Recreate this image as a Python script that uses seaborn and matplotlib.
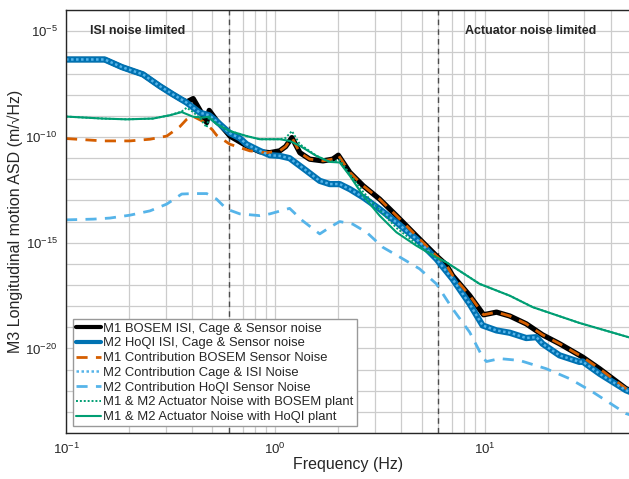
import numpy as np
import pandas as pd
import seaborn as sns
import matplotlib
matplotlib.use("Agg")
import matplotlib.pyplot as plt

# ---------------------------------------------------------------------------
# data (frequency in Hz, ASD in m/sqrt(Hz))
# ---------------------------------------------------------------------------
freq_m1_isi = [0.1, 0.153, 0.185, 0.233, 0.281, 0.324, 0.355, 0.377, 0.405, 0.44, 0.47, 0.483,
               0.524, 0.607, 0.729, 0.843, 0.941, 1.05, 1.12, 1.2, 1.31, 1.46, 1.69, 1.88, 2.0,
               2.27, 2.63, 3.15, 3.79, 4.72, 5.88, 6.56, 7.03, 8.48, 9.89, 11.4, 13.2, 15.8,
               18.9, 22.8, 29.4, 35.4, 47.4, 50]
m1_isi = [4.6e-7, 4.6e-7, 2.0e-7, 9.1e-8, 2.5e-8, 1.03e-8, 6e-9, 4.5e-9, 6.5e-9, 1.6e-9, 4.8e-10,
          1.8e-9, 6e-10, 1.1e-10, 3.8e-11, 2.0e-11, 1.8e-11, 2.2e-11, 3.5e-11, 9.3e-11, 1.8e-11,
          8.9e-12, 7.4e-12, 8.9e-12, 1.37e-11, 2.1e-12, 4.9e-13, 1.15e-13, 1.9e-14, 2.1e-15,
          2.4e-16, 9e-17, 2.8e-17, 3.2e-18, 3.9e-19, 5.2e-19, 3.4e-19, 1.46e-19, 4.4e-20,
          1.67e-20, 3.9e-21, 1.1e-21, 1.26e-22, 1.0e-22]

freq_m2_isi = [0.1, 0.153, 0.185, 0.233, 0.281, 0.324, 0.377, 0.436, 0.483, 0.524, 0.607, 0.677,
               0.729, 0.843, 0.941, 1.05, 1.17, 1.41, 1.63, 1.82, 2.03, 2.27, 2.63, 3.15, 3.79,
               4.72, 5.88, 7.03, 8.48, 9.78, 11.4, 13.2, 15.8, 17.7, 18.9, 22.8, 28.4, 29.4,
               35.4, 47.4, 50]
m2_isi = [4.6e-7, 4.6e-7, 2.0e-7, 9.1e-8, 2.5e-8, 1.03e-8, 4.2e-9, 1.4e-9, 1.06e-9, 5.5e-10,
          1.5e-10, 8.7e-11, 4.5e-11, 2.2e-11, 1.37e-11, 1.27e-11, 9.9e-12, 2.5e-12, 8.4e-13,
          5.9e-13, 5.9e-13, 3.4e-13, 1.39e-13, 3.9e-14, 9.2e-15, 1.5e-15, 1.7e-16, 1.9e-17,
          1.28e-18, 1.22e-19, 7.1e-20, 5.5e-20, 3.1e-20, 3.4e-20, 1.67e-20, 4.7e-21, 2.3e-21,
          2.4e-21, 6.4e-22, 1.05e-22, 8.5e-23]

freq_m1_sens = [0.1, 0.15, 0.202, 0.252, 0.303, 0.35, 0.377, 0.40, 0.45, 0.50, 0.524, 0.607,
                0.755, 0.91, 1.05, 1.12, 1.2, 1.31, 1.46, 1.69, 1.88, 2.0, 2.27, 2.63, 3.15,
                3.79, 4.72, 5.88, 6.56, 7.03, 8.48, 9.89, 11.4, 13.2, 15.8, 18.9, 22.8, 29.4,
                35.4, 47.4, 50]
m1_sens = [8.4e-11, 6.5e-11, 6.5e-11, 7.8e-11, 1.1e-10, 3.1e-10, 6.8e-10, 1.0e-9, 5.5e-10,
           2.2e-10, 1.2e-10, 4.5e-11, 2.2e-11, 1.8e-11, 2.2e-11, 3.5e-11, 9.3e-11, 1.8e-11,
           8.9e-12, 7.4e-12, 8.9e-12, 1.37e-11, 2.1e-12, 4.9e-13, 1.15e-13, 1.9e-14, 2.1e-15,
           2.4e-16, 9e-17, 2.8e-17, 3.2e-18, 3.9e-19, 5.2e-19, 3.4e-19, 1.46e-19, 4.4e-20,
           1.67e-20, 3.9e-21, 1.1e-21, 1.26e-22, 1.0e-22]

freq_m2_sens = [0.1, 0.135, 0.162, 0.202, 0.252, 0.303, 0.357, 0.405, 0.47, 0.524, 0.585, 0.677,
                0.843, 0.941, 1.17, 1.35, 1.63, 1.82, 2.03, 2.34, 2.73, 3.26, 3.93, 4.89, 5.88,
                7.03, 8.48, 9.78, 10.2, 11.8, 14.7, 19.7, 25.5, 32.8, 47.4, 50]
m2_sens = [1.2e-14, 1.3e-14, 1.46e-14, 2.0e-14, 3.2e-14, 6.7e-14, 2.0e-13, 2.1e-13, 2.1e-13,
           1.15e-13, 3.9e-14, 2.3e-14, 1.9e-14, 2.3e-14, 4.2e-14, 1.09e-14, 2.6e-15, 5.3e-15,
           1.0e-14, 7.6e-15, 3.1e-15, 6.1e-16, 2.1e-16, 5.8e-17, 1.13e-17, 7.5e-19, 5.9e-20,
           3.9e-21, 2.4e-21, 3.3e-21, 2.7e-21, 1.1e-21, 3.7e-22, 8.8e-23, 8.3e-24, 7e-24]

freq_act_bosem = [0.1, 0.15, 0.195, 0.26, 0.313, 0.357, 0.377, 0.405, 0.44, 0.47, 0.483, 0.524,
                  0.607, 0.729, 0.843, 1.05, 1.12, 1.2, 1.31, 1.57, 1.82, 2.03, 2.27, 2.63,
                  3.15, 3.79, 4.72, 5.88, 6.56, 9.46, 13.2, 17.0, 28.4, 48.7, 50]
act_bosem = [9.2e-10, 7.4e-10, 6.8e-10, 7.4e-10, 1.06e-9, 1.6e-9, 2.4e-9, 1.5e-9, 7e-10, 2.8e-10,
             1.0e-9, 4.2e-10, 1.9e-10, 1.1e-10, 7.8e-11, 7.8e-11, 9e-11, 1.9e-10, 4.5e-11,
             1.3e-11, 6.6e-12, 8e-12, 1.8e-12, 2.5e-13, 3.5e-14, 5e-15, 9e-16, 2.0e-16, 1.19e-16,
             1.13e-17, 3.1e-18, 8.9e-19, 1.6e-19, 3.4e-20, 3.1e-20]

freq_act_hoqi = [0.1, 0.15, 0.195, 0.26, 0.313, 0.357, 0.405, 0.452, 0.478, 0.524, 0.607, 0.729,
                 0.843, 1.05, 1.17, 1.31, 1.57, 1.82, 2.03, 2.27, 2.63, 3.15, 3.79, 4.72, 5.88,
                 6.56, 9.46, 13.2, 17.0, 28.4, 48.7, 50]
act_hoqi = [9.2e-10, 7.4e-10, 6.8e-10, 7.4e-10, 1.06e-9, 1.5e-9, 9e-10, 8.2e-10, 9e-10, 4e-10,
            1.9e-10, 1.1e-10, 7.8e-11, 7.8e-11, 6.5e-11, 3.8e-11, 1.27e-11, 6.6e-12, 6.2e-12,
            1.45e-12, 1.65e-13, 1.9e-14, 3.1e-15, 7.2e-16, 2.0e-16, 1.19e-16, 1.13e-17, 3.1e-18,
            8.9e-19, 1.6e-19, 3.4e-20, 3.1e-20]

# crossover frequencies marked with dashed lines
crossovers = [0.6, 6.0]

# =======================================================================================
# ========= Figure ======================================================================
# =======================================================================================

sns.set_style("white")
plt.rcParams['font.family'] = ['Liberation Sans', 'DejaVu Sans']
plt.rcParams['mathtext.fontset'] = 'custom'
plt.rcParams['mathtext.rm'] = 'Liberation Sans'

fig = plt.figure(figsize=(6.29, 4.79), dpi=100)
ax = fig.add_axes([0.105, 0.096, 0.898, 0.883])

series = [
    (freq_m1_isi, m1_isi, 'M1 BOSEM ISI, Cage & Sensor noise', 'black', '-', 3.8),
    (freq_m2_isi, m2_isi, 'M2 HoQI ISI, Cage & Sensor noise', '#0072B2', '-', 4.5),
    (freq_m1_sens, m1_sens, 'M1 Contribution BOSEM Sensor Noise', '#D55E00', (0, (4, 3)), 2.0),
    (freq_m2_isi, m2_isi, 'M2 Contribution Cage & ISI Noise', '#56B4E9', (0, (1, 1)), 1.8),
    (freq_m2_sens, m2_sens, 'M2 Contribution HoQI Sensor Noise', '#56B4E9', (0, (4, 3)), 2.0),
    (freq_act_bosem, act_bosem, 'M1 & M2 Actuator Noise with BOSEM plant', '#009E73', (0, (1, 1)), 1.4),
    (freq_act_hoqi, act_hoqi, 'M1 & M2 Actuator Noise with HoQI plant', '#009E73', '-', 1.5),
]

for f, a, label, color, ls, lw in series:
    df = pd.DataFrame({'freq': f, 'asd': a})
    sns.lineplot(data=df, x='freq', y='asd', ax=ax, color=color, linestyle=ls,
                 linewidth=lw, label=label, estimator=None, sort=False)

for fc in crossovers:
    ax.axvline(fc, color='0.3', linestyle=(0, (4, 3)), linewidth=1.0, zorder=1)

ax.set_xscale('log')
ax.set_yscale('log')
ax.set_xlim(0.1, 50)
ax.set_ylim(1e-24, 1e-4)

ax.set_yticks([1e-20, 1e-15, 1e-10, 1e-5])
ax.set_yticks([10.0 ** k for k in range(-24, -3)], minor=True)
ax.set_xticks([0.1, 1, 10])
ax.set_xticks([m * 10.0 ** k for k in (-1, 0, 1) for m in range(2, 10) if m * 10.0 ** k <= 50],
              minor=True)
ax.yaxis.set_minor_formatter(plt.NullFormatter())
ax.xaxis.set_minor_formatter(plt.NullFormatter())

ax.grid(True, which='both', color='0.8', linewidth=0.9)
ax.set_axisbelow(True)
ax.tick_params(which='both', length=0, labelsize=9.5, colors='#262626')
ax.tick_params(axis='y', pad=6)
ax.tick_params(axis='x', pad=6)

for side in ['left', 'top', 'bottom', 'right']:
    ax.spines[side].set_color('#262626')
    ax.spines[side].set_linewidth(1.0)

ax.set_xlabel('Frequency (Hz)', fontsize=11.5, color='#262626', labelpad=0)
ax.set_ylabel('M3 Longitudinal motion ASD (m/\u221aHz)', fontsize=11.5, color='#262626')
ax.yaxis.set_label_coords(-0.076, 0.5)

ax.text(0.130, 1e-5, 'ISI noise limited', fontsize=9, fontweight='bold', va='center', ha='left')
ax.text(8.1, 1e-5, 'Actuator noise limited', fontsize=9, fontweight='bold', va='center', ha='left')

lgd = ax.legend(loc='lower left', fontsize=9.4, frameon=True, fancybox=False, edgecolor='0.6',
                framealpha=1, handlelength=1.9, handletextpad=0.2, labelspacing=0.2,
                borderpad=0.25, borderaxespad=0.5)
lgd.get_frame().set_linewidth(1.0)
for line in lgd.get_lines():
    line.set_linewidth(min(line.get_linewidth(), 3.0))

fig.savefig('out.png', dpi=100, facecolor='white')
